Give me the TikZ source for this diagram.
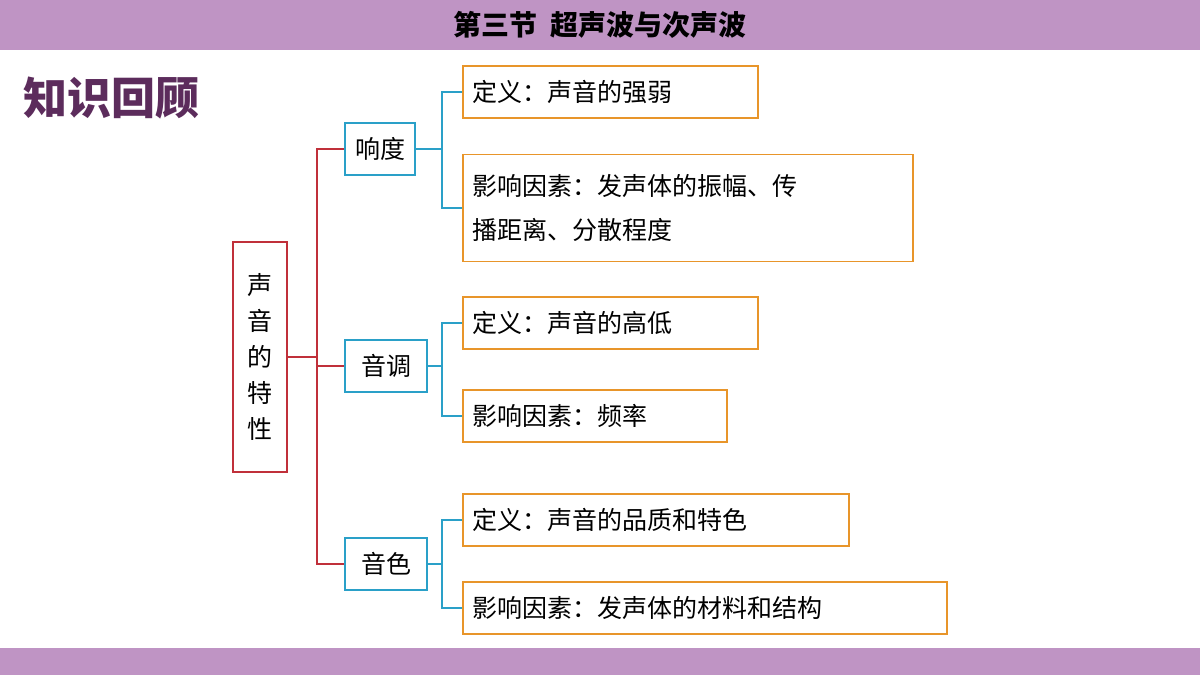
\documentclass[tikz,border=0pt]{standalone}
\usepackage{fontspec}
\setmainfont{Noto Sans CJK SC}
\usetikzlibrary{positioning}
\definecolor{barpurple}{HTML}{BF94C4}
\definecolor{rootred}{HTML}{C0303A}
\definecolor{midblue}{HTML}{2AA0C8}
\definecolor{leaforange}{HTML}{E8952A}
\definecolor{recapcol}{HTML}{5C2C5C}
\begin{document}
\begin{tikzpicture}[x=1pt,y=-1pt,
  root/.style={draw=rootred, line width=1.6pt, align=center, inner sep=0pt, minimum width=54pt, minimum height=230pt, font=\fontsize{25}{36}\selectfont},
  mid/.style={draw=midblue, line width=1.6pt, inner sep=0pt, minimum height=52pt, font=\fontsize{25}{30}\selectfont},
  leaf/.style={draw=leaforange, line width=1.6pt, anchor=west, align=left, inner xsep=10pt, minimum height=52pt, font=\fontsize{25}{44}\selectfont},
  redline/.style={rootred, line width=1.6pt},
  blueline/.style={midblue, line width=1.6pt}]
\useasboundingbox (0,0) rectangle (1200,675);
% bars
\fill[barpurple] (0,0) rectangle (1200,50);
\fill[barpurple] (0,648) rectangle (1200,675);
\node[font=\fontsize{28}{30}\selectfont\bfseries] (title) at (600,25) {第三节\ \ 超声波与次声波};
\node[anchor=west, font=\fontsize{44}{46}\selectfont\bfseries, text=recapcol] (recap) at (20,98) {知识回顾};
% root
\node[root] (trait) at (260,357) {声\\音\\的\\特\\性};
% middle boxes
\node[mid, minimum width=70pt] (loud) at (380,149) {响度};
\node[mid, minimum width=82pt] (pitch) at (386,366) {音调};
\node[mid, minimum width=82pt] (timbre) at (386,564) {音色};
% leaves
\node[leaf, text width=275pt] (loudA) at (462,92) {定义：声音的强弱};
\node[leaf, minimum height=107pt, text width=430pt] (loudB) at (462,208) {影响因素：发声体的振幅、传\\播距离、分散程度};
\node[leaf, text width=275pt] (pitchA) at (462,323) {定义：声音的高低};
\node[leaf, text width=244pt] (pitchB) at (462,416) {影响因素：频率};
\node[leaf, text width=366pt] (timbreA) at (462,520) {定义：声音的品质和特色};
\node[leaf, text width=464pt] (timbreB) at (462,608) {影响因素：发声体的材料和结构};
% connectors
\coordinate (rj) at (317,357);
\draw[redline] (trait.east) -- (rj);
\foreach \m in {loud,pitch,timbre}
  \draw[redline] (rj) |- (\m.west);
\foreach \m/\a/\b in {loud/loudA/loudB,pitch/pitchA/pitchB,timbre/timbreA/timbreB}{
  \coordinate (\m j) at (442,0 |- \m.east);
  \draw[blueline] (\m.east) -- (\m j);
  \draw[blueline] (\a.west) -| (\m j) |- (\b.west);
}
\end{tikzpicture}
\end{document}
